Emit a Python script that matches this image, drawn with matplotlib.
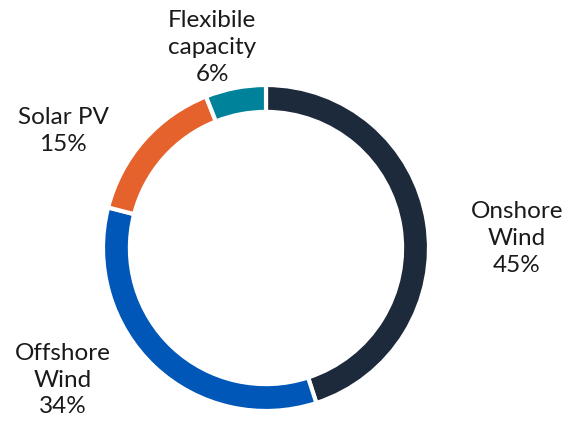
import matplotlib.pyplot as plt

labels = ["Onshore\nWind", "Offshore\nWind", "Solar PV", "Flexibile\ncapacity"]
shares = [45, 34, 15, 6]
colors = ["#1c2a3b", "#0057b8", "#e5622c", "#00829a"]
# label anchor positions (data units, radius = 1)
label_x = [1.54, -1.245, -1.245, -0.33]
label_y = [0.06, -0.81, 0.72, 1.23]

plt.rcParams['font.family'] = ['Lato', 'DejaVu Sans']

fig = plt.figure(figsize=(5.69, 4.28), dpi=100)
ax = fig.add_axes([103 / 569, 17 / 428, 326 / 569, 326 / 428])

ax.pie(shares, colors=colors, startangle=90, counterclock=False,
       wedgeprops=dict(width=0.165, edgecolor="white", linewidth=3))

for lab, val, x, y in zip(labels, shares, label_x, label_y):
    ax.text(x, y, "{}\n{}%".format(lab, val), ha="center", va="center",
            fontsize=17.5, color="#1a1a1a", linespacing=1.35, clip_on=False)

ax.set_xlim(-1, 1)
ax.set_ylim(-1, 1)
ax.set_aspect("equal")
ax.axis("off")

plt.savefig("out.png", dpi=100)
